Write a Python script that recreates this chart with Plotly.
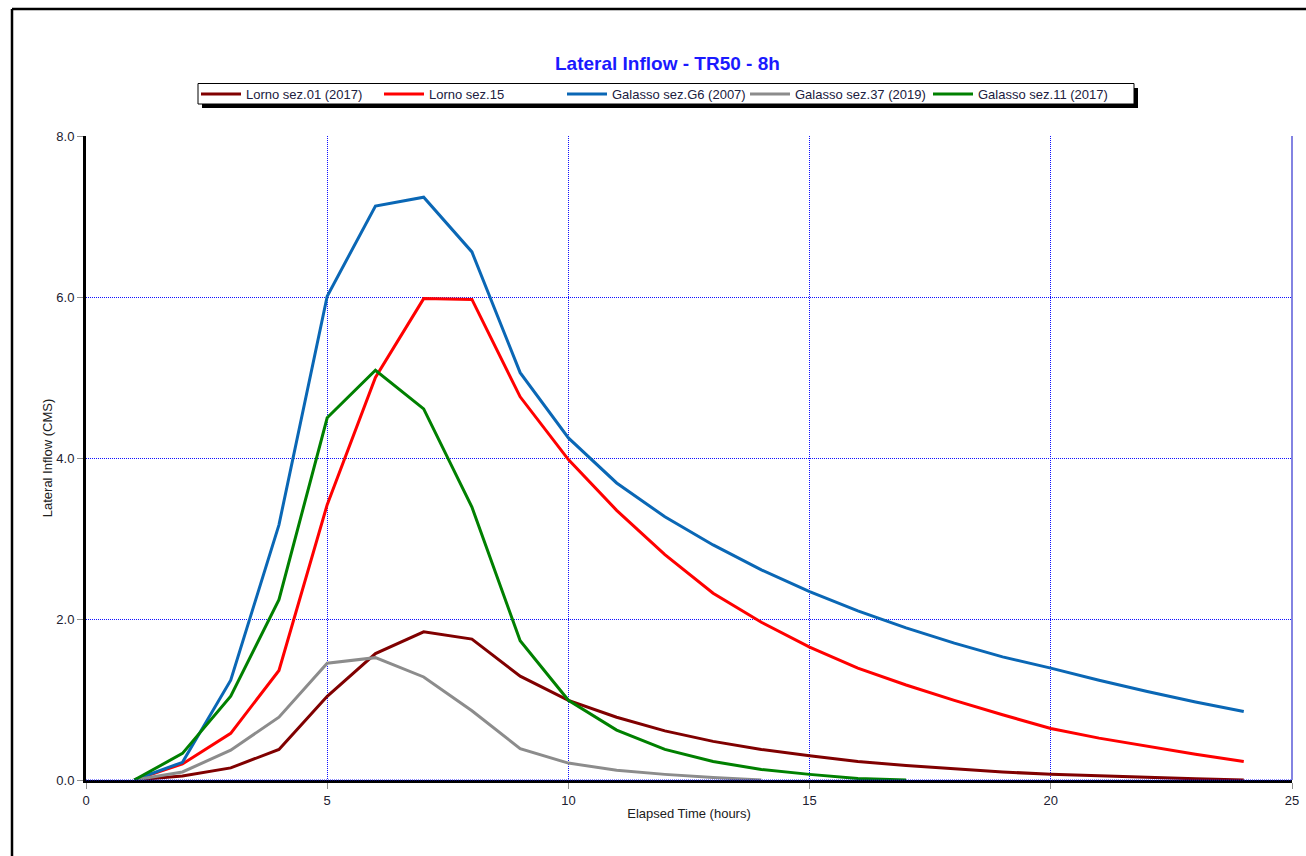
import plotly.graph_objects as go

# ---- data ----
hours = list(range(1, 25))

lorno01 = [0.0, 0.05, 0.15, 0.38, 1.04, 1.57, 1.84, 1.75, 1.29, 0.99, 0.78, 0.61,
           0.48, 0.38, 0.30, 0.23, 0.18, 0.14, 0.10, 0.07, 0.05, 0.03, 0.015, 0.0]
lorno15 = [0.0, 0.20, 0.58, 1.36, 3.42, 5.00, 5.98, 5.97, 4.76, 3.98, 3.35, 2.80,
           2.32, 1.96, 1.65, 1.39, 1.18, 0.99, 0.81, 0.64, 0.52, 0.42, 0.32, 0.23]
galasso_g6 = [0.0, 0.22, 1.24, 3.17, 6.01, 7.13, 7.24, 6.56, 5.06, 4.25, 3.69, 3.27,
              2.92, 2.61, 2.34, 2.10, 1.89, 1.70, 1.53, 1.39, 1.24, 1.10, 0.97, 0.85]
galasso_37 = [0.0, 0.10, 0.37, 0.78, 1.45, 1.52, 1.28, 0.86, 0.39, 0.21, 0.12, 0.07,
              0.03, 0.0]
galasso_11 = [0.0, 0.33, 1.04, 2.24, 4.50, 5.09, 4.61, 3.39, 1.73, 0.99, 0.62, 0.38,
              0.23, 0.13, 0.07, 0.02, 0.0]

series = [
    ("Lorno sez.01 (2017)", lorno01, "#800000"),
    ("Lorno sez.15", lorno15, "#ff0000"),
    ("Galasso sez.G6 (2007)", galasso_g6, "#0a67b5"),
    ("Galasso sez.37 (2019)", galasso_37, "#8c8c8c"),
    ("Galasso sez.11 (2017)", galasso_11, "#008000"),
]

x_ticks = [0, 5, 10, 15, 20, 25]
y_ticks = [0, 2, 4, 6, 8]

title_text = "Lateral Inflow - TR50 - 8h"
x_title = "Elapsed Time (hours)"
y_title = "Lateral Inflow (CMS)"

# ---- layout geometry (pixels) ----
W, H = 1306, 856
L, R, T, B = 86, 1292, 136, 780
pw, ph = R - L, B - T


def px(xp):
    return (xp - L) / pw


def py(yp):
    return (B - yp) / ph


FONT = "Liberation Sans, Arial, sans-serif"
GRID = "#1010ff"

fig = go.Figure()
for name, vals, color in series:
    fig.add_trace(go.Scatter(
        x=hours[:len(vals)], y=vals, name=name, mode="lines",
        line=dict(color=color, width=3),
    ))

shapes = [
    # outer frame
    dict(type="line", xref="paper", yref="paper", x0=px(12), x1=px(1320), y0=py(9), y1=py(9),
         line=dict(color="black", width=2.5)),
    dict(type="line", xref="paper", yref="paper", x0=px(12), x1=px(12), y0=py(9), y1=py(870),
         line=dict(color="black", width=2.5)),
    # legend shadow + box
    dict(type="rect", xref="paper", yref="paper", x0=px(202), x1=px(1138), y0=py(88), y1=py(108),
         line=dict(width=0), fillcolor="black", layer="below"),
    dict(type="rect", xref="paper", yref="paper", x0=px(198), x1=px(1134), y0=py(83.5), y1=py(104),
         line=dict(width=1, color="black"), fillcolor="white", layer="below"),
    # right border
    dict(type="line", xref="paper", yref="paper", x0=1, x1=1, y0=0, y1=1,
         line=dict(color="#5a5ad8", width=1.5)),
    # blue dotted over bottom axis
    dict(type="line", xref="paper", yref="paper", x0=0, x1=1, y0=0, y1=0,
         line=dict(color=GRID, width=1, dash="1px,1px"), layer="above"),
]

fig.update_layout(
    width=W, height=H,
    margin=dict(l=L, r=W - R, t=T, b=H - B, pad=0, autoexpand=False),
    paper_bgcolor="white", plot_bgcolor="white",
    font=dict(family=FONT, size=13, color="#202030"),
    showlegend=True,
    legend=dict(
        orientation="h", x=px(196), y=py(94), xanchor="left", yanchor="middle",
        bgcolor="rgba(0,0,0,0)", borderwidth=0,
        font=dict(family=FONT, size=13, color="#202040"),
        entrywidth=128, entrywidthmode="pixels", itemwidth=40,
        traceorder="normal",
    ),
    annotations=[dict(
        text="<b>%s</b>" % title_text, xref="paper", yref="paper",
        x=px(667), y=py(63), xanchor="center", yanchor="middle", showarrow=False,
        font=dict(family=FONT, size=19, color="#1a1aff"),
    )],
    shapes=shapes,
    xaxis=dict(
        range=[0, 25], tickvals=x_ticks, ticktext=[str(v) for v in x_ticks],
        showgrid=True, gridcolor=GRID, griddash="1px,1px", gridwidth=1,
        showline=True, linecolor="black", linewidth=3,
        ticks="outside", ticklen=6, tickcolor="#909090", tickwidth=1,
        zeroline=False, layer="above traces", automargin=False,
        tickfont=dict(size=13, color="#202030"),
        title=dict(text=x_title, font=dict(size=13, color="#202020"), standoff=3),
    ),
    yaxis=dict(
        range=[0, 8], tickvals=y_ticks, ticktext=["%.1f" % v for v in y_ticks],
        showgrid=True, gridcolor=GRID, griddash="1px,1px", gridwidth=1,
        showline=True, linecolor="black", linewidth=3,
        ticks="outside", ticklen=6, tickcolor="#909090", tickwidth=1,
        zeroline=False, layer="above traces", automargin=False,
        tickfont=dict(size=13, color="#202030"),
        title=dict(text=y_title, font=dict(size=13, color="#202020"), standoff=1),
    ),
)

fig.write_html("out.html")
